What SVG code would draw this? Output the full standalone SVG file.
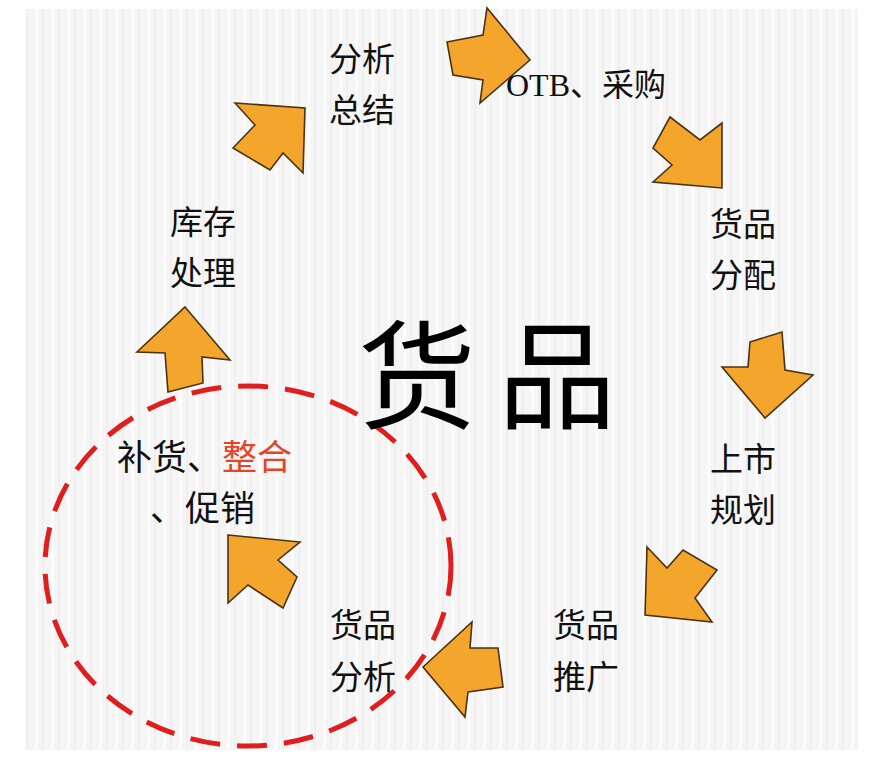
<svg xmlns="http://www.w3.org/2000/svg" width="880" height="763" viewBox="0 0 880 763">
<defs>
<pattern id="stripes" x="0" y="0" width="16" height="20" patternUnits="userSpaceOnUse">
<rect width="16" height="20" fill="#f5f5f5"/>
<rect x="3" width="3" height="20" fill="#fcfcfc"/>
<rect x="10" width="2" height="20" fill="#efefef"/>
</pattern>
<style>
.arrow{fill:#f4a52c;stroke:#4a3312;stroke-width:1.6;stroke-linejoin:miter}
.t{font-family:"Noto Sans CJK SC","Noto Sans CJK JP",sans-serif;font-size:33px;font-weight:400;fill:#111}
.big{font-family:"Noto Sans CJK SC",sans-serif;font-size:118px;font-weight:400;fill:#000;letter-spacing:22px}
.red{fill:#e2452a}
</style>
</defs>
<rect width="880" height="763" fill="#ffffff"/>
<rect x="25" y="9" width="833" height="741" fill="url(#stripes)"/>
<g id="connectors">
<polygon class="arrow" points="447,42 483,35 487,8 530,60 480,103 483,80 453,75"/>
<polygon class="arrow" points="670,117 700,140 722,123 722,188 653,182 672,165 653,148"/>
<polygon class="arrow" points="750,342 782,332 785,370 813,375 765,418 722,367 748,367"/>
<polygon class="arrow" points="647,547 667,568 683,550 717,570 695,598 712,622 645,615"/>
<polygon class="arrow" points="423,667 472,622 470,648 498,648 503,687 468,692 465,717"/>
<polygon class="arrow" points="228,535 300,542 278,560 297,577 283,608 248,585 228,603"/>
<polygon class="arrow" points="185,307 230,360 202,357 203,383 168,392 165,353 137,352"/>
<polygon class="arrow" points="235,103 305,108 303,173 283,153 270,170 233,148 255,125"/>
</g>
<g id="circle">
<ellipse cx="248" cy="566" rx="203" ry="180" fill="none" stroke="#e01e1e" stroke-width="5" stroke-dasharray="30 17"/>
</g>
<g id="center"><text class="big" x="358" y="420">货品</text></g>
<g id="n-analysis"><text class="t" x="329" y="71">分析</text><text class="t" x="329" y="122">总结</text></g>
<g id="n-otb"><text x="506" y="96" style="font-family:'Liberation Serif',serif;font-size:32px;fill:#111">OTB<tspan style="font-family:'Noto Sans CJK SC',sans-serif">、采购</tspan></text></g>
<g id="n-alloc"><text class="t" x="710" y="236">货品</text><text class="t" x="710" y="287">分配</text></g>
<g id="n-launch"><text class="t" x="710" y="471">上市</text><text class="t" x="710" y="522">规划</text></g>
<g id="n-promo"><text class="t" x="553" y="637">货品</text><text class="t" x="553" y="689">推广</text></g>
<g id="n-goodsanalysis"><text class="t" x="330" y="637">货品</text><text class="t" x="330" y="689">分析</text></g>
<g id="n-replenish"><text class="t" x="117" y="470" style="font-size:35px">补货、<tspan class="red">整合</tspan></text><text class="t" x="150" y="521" style="font-size:35px">、促销</text></g>
<g id="n-stock"><text class="t" x="170" y="234">库存</text><text class="t" x="170" y="285">处理</text></g>
</svg>
